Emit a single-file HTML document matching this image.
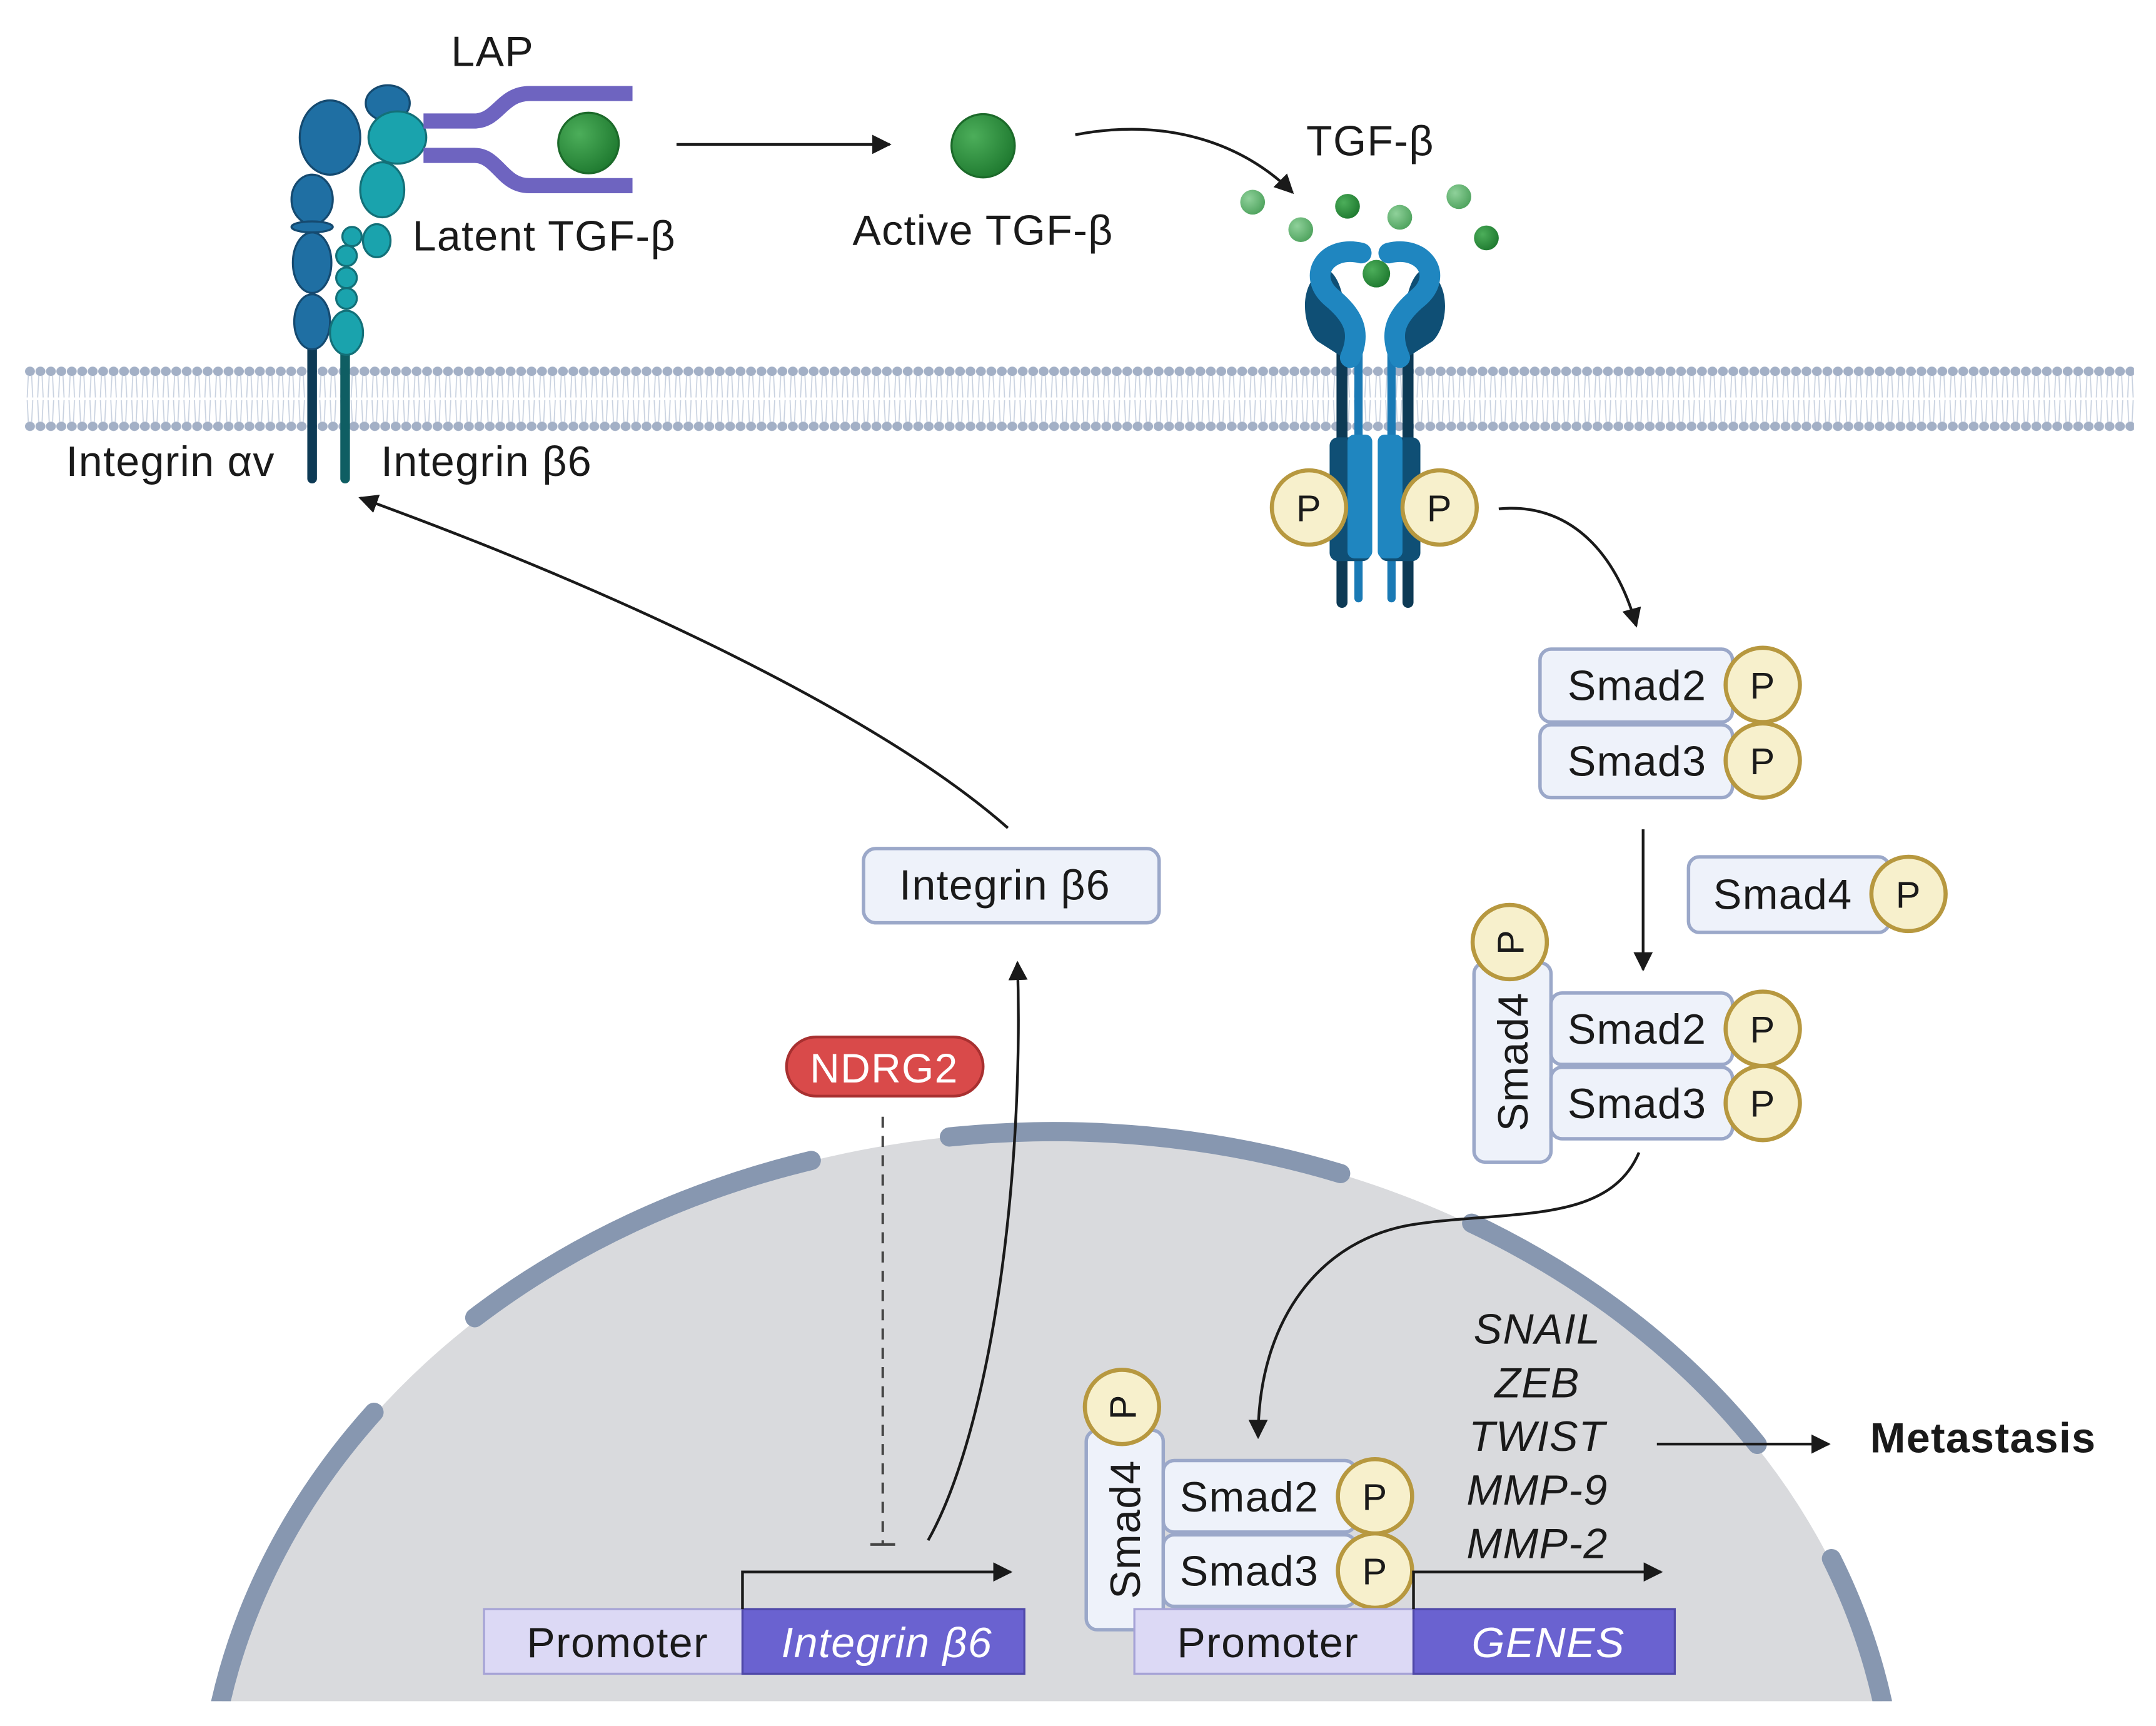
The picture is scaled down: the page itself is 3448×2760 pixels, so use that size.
<!DOCTYPE html>
<html><head><meta charset="utf-8"><style>
html,body{margin:0;padding:0;background:#fff;width:3448px;height:2760px;overflow:hidden}
svg{display:block}
text{font-family:"Liberation Sans",sans-serif;fill:#1a1a1a;letter-spacing:0.6px}
</style></head><body>
<svg width="3448" height="2760" viewBox="0 0 1568 1255" preserveAspectRatio="none" xmlns="http://www.w3.org/2000/svg">
<defs>
<pattern id="mem" x="18" y="262" width="7.6" height="56" patternUnits="userSpaceOnUse">
<ellipse cx="3.8" cy="8" rx="3.6" ry="3.4" fill="#a3b0c6"/>
<ellipse cx="3.8" cy="48" rx="3.6" ry="3.4" fill="#a3b0c6"/>
<path d="M2.6 11 L1.8 27 M5 11 L5.8 27 M1.8 29 L2.6 45 M5.8 29 L5 45" stroke="#c9d2e0" stroke-width="0.8" fill="none"/>
</pattern>
<marker id="ah2" viewBox="0 0 10 10" refX="9" refY="5" markerWidth="14" markerHeight="14" orient="auto" markerUnits="userSpaceOnUse">
<path d="M0 0 L10 5 L0 10 z" fill="#1a1a1a"/></marker>
<clipPath id="nc"><rect x="0" y="0" width="1568" height="1237"/></clipPath>
<radialGradient id="g1" cx="0.35" cy="0.35" r="0.7"><stop offset="0" stop-color="#4cae5a"/><stop offset="1" stop-color="#1f7a30"/></radialGradient>
<radialGradient id="g2" cx="0.35" cy="0.35" r="0.7"><stop offset="0" stop-color="#8fd19a"/><stop offset="1" stop-color="#4fa35e"/></radialGradient>
</defs>

<g clip-path="url(#nc)">
<ellipse cx="765" cy="1335" rx="615" ry="512" fill="#d9dadd"/>
<g fill="none" stroke="#8797b0" stroke-width="14" stroke-linecap="round">
<path d="M160 1239.9 A615 512 0 0 1 272 1026.9"/>
<path d="M345.3 958.1 A615 512 0 0 1 590 843.8"/>
<path d="M690.5 826.7 A615 512 0 0 1 975 853.3"/>
<path d="M1070.3 889.4 A615 512 0 0 1 1278 1050.2"/>
<path d="M1332 1133.3 A615 512 0 0 1 1369 1237.3"/>
</g>
</g>

<rect x="18" y="262" width="1534" height="56" fill="url(#mem)"/>

<g stroke-width="1.5">
<line x1="227" y1="240" x2="227" y2="348" stroke="#0d3a55" stroke-width="7" stroke-linecap="round"/>
<line x1="251" y1="240" x2="251" y2="348" stroke="#0f5e63" stroke-width="7" stroke-linecap="round"/>
<g fill="#1f6fa3" stroke="#154a70">
<ellipse cx="282" cy="75" rx="16" ry="13"/>
<ellipse cx="240" cy="100" rx="22" ry="27"/>
<ellipse cx="227" cy="145" rx="15" ry="18"/>
<ellipse cx="227" cy="165" rx="15" ry="4"/>
<ellipse cx="227" cy="191" rx="14" ry="22"/>
<ellipse cx="227" cy="234" rx="13" ry="20"/>
</g>
<g fill="#1aa3ad" stroke="#137078">
<ellipse cx="278" cy="138" rx="16" ry="20"/>
<ellipse cx="289" cy="100" rx="21" ry="19"/>
<ellipse cx="274" cy="175" rx="10" ry="12"/>
<circle cx="256" cy="172" r="7"/>
<circle cx="252" cy="186" r="7.5"/>
<circle cx="252" cy="202" r="7.5"/>
<circle cx="252" cy="217" r="7.5"/>
<ellipse cx="252" cy="242" rx="12" ry="16"/>
</g>
</g>
<g fill="none" stroke="#6e64c0" stroke-width="11">
<path d="M308 88 L345 88 C362 88 365 68 385 68 L460 68"/>
<path d="M308 113 L345 113 C362 113 365 135 385 135 L460 135"/>
</g>
<circle cx="428" cy="104" r="22" fill="url(#g1)" stroke="#1c6a2a" stroke-width="1.5"/>
<text x="328" y="48" font-size="31">LAP</text>
<text x="300" y="182" font-size="31">Latent TGF-β</text>
<text x="48" y="346" font-size="31">Integrin αv</text>
<text x="277" y="346" font-size="31">Integrin β6</text>

<line x1="492" y1="105" x2="647" y2="105" stroke="#1a1a1a" stroke-width="2" marker-end="url(#ah2)"/>
<circle cx="715" cy="106" r="23" fill="url(#g1)" stroke="#1c6a2a" stroke-width="1.5"/>
<text x="620" y="178" font-size="31">Active TGF-β</text>
<path d="M782 98 C850 85 905 105 940 140" fill="none" stroke="#1a1a1a" stroke-width="2" marker-end="url(#ah2)"/>
<text x="950" y="113" font-size="31">TGF-β</text>

<circle cx="911" cy="147" r="9" fill="url(#g2)"/>
<circle cx="946" cy="167" r="9" fill="url(#g2)"/>
<circle cx="980" cy="150" r="9" fill="url(#g1)"/>
<circle cx="1018" cy="158" r="9" fill="url(#g2)"/>
<circle cx="1061" cy="143" r="9" fill="url(#g2)"/>
<circle cx="1081" cy="173" r="9" fill="url(#g1)"/>
<circle cx="1001" cy="199" r="10" fill="url(#g1)"/>

<g>
<line x1="976" y1="250" x2="976" y2="438" stroke="#0d3a55" stroke-width="8" stroke-linecap="round"/>
<line x1="988" y1="250" x2="988" y2="435" stroke="#1a7ab5" stroke-width="6" stroke-linecap="round"/>
<line x1="1024" y1="250" x2="1024" y2="438" stroke="#0d3a55" stroke-width="8" stroke-linecap="round"/>
<line x1="1012" y1="250" x2="1012" y2="435" stroke="#1a7ab5" stroke-width="6" stroke-linecap="round"/>
<rect x="967" y="318" width="30" height="90" rx="6" fill="#0f4f75"/>
<rect x="980" y="316" width="18" height="90" rx="5" fill="#1f86c0"/>
<rect x="1003" y="318" width="30" height="90" rx="6" fill="#0f4f75"/>
<rect x="1002" y="316" width="18" height="90" rx="5" fill="#1f86c0"/>
<path d="M966 196 C945 200 945 235 958 248 L980 262 L985 236 C975 222 978 205 966 196z" fill="#0f4f75"/>
<path d="M1034 196 C1055 200 1055 235 1042 248 L1020 262 L1015 236 C1025 222 1022 205 1034 196z" fill="#0f4f75"/>
<path d="M990 184 C965 178 950 200 968 216 C985 230 990 242 982 260" fill="none" stroke="#1f86c0" stroke-width="15" stroke-linecap="round"/>
<path d="M1010 184 C1035 178 1050 200 1032 216 C1015 230 1010 242 1018 260" fill="none" stroke="#1f86c0" stroke-width="15" stroke-linecap="round"/>
</g>
<g fill="#f7f0cc" stroke="#b7983f" stroke-width="3">
<circle cx="952" cy="369" r="27"/><circle cx="1047" cy="369" r="27"/>
</g>
<text x="952" y="379" font-size="27" text-anchor="middle">P</text>
<text x="1047" y="379" font-size="27" text-anchor="middle">P</text>

<path d="M1090 370 C1140 365 1175 400 1190 455" fill="none" stroke="#1a1a1a" stroke-width="2" marker-end="url(#ah2)"/>

<g fill="#eef2fa" stroke="#9ba8c9" stroke-width="2.5">
<rect x="1120" y="472" width="140" height="53" rx="8"/>
<rect x="1120" y="527" width="140" height="53" rx="8"/>
<rect x="1228" y="623" width="146" height="55" rx="8"/>
<rect x="1072" y="700" width="56" height="145" rx="8"/>
<rect x="1128" y="722" width="132" height="52" rx="8"/>
<rect x="1128" y="776" width="132" height="52" rx="8"/>
<rect x="790" y="1040" width="56" height="145" rx="8"/>
<rect x="846" y="1062" width="140" height="52" rx="8"/>
<rect x="846" y="1116" width="140" height="52" rx="8"/>
<rect x="628" y="617" width="215" height="54" rx="9"/>
</g>
<g font-size="31">
<text x="1140" y="509">Smad2</text>
<text x="1140" y="564">Smad3</text>
<text x="1246" y="661">Smad4</text>
<text x="1140" y="759">Smad2</text>
<text x="1140" y="813">Smad3</text>
<text x="858" y="1099">Smad2</text>
<text x="858" y="1153">Smad3</text>
<text x="654" y="654">Integrin β6</text>
<text transform="translate(1111 772) rotate(-90)" text-anchor="middle">Smad4</text>
<text transform="translate(829 1112) rotate(-90)" text-anchor="middle">Smad4</text>
</g>
<g fill="#f7f0cc" stroke="#b7983f" stroke-width="3">
<circle cx="1282" cy="498" r="27"/><circle cx="1282" cy="553" r="27"/>
<circle cx="1388" cy="650" r="27"/>
<circle cx="1098" cy="685" r="27"/>
<circle cx="1282" cy="748" r="27"/><circle cx="1282" cy="802" r="27"/>
<circle cx="816" cy="1023" r="27"/>
<circle cx="1000" cy="1088" r="27"/><circle cx="1000" cy="1142" r="27"/>
</g>
<g font-size="27" text-anchor="middle">
<text x="1282" y="508">P</text><text x="1282" y="563">P</text>
<text x="1388" y="660">P</text>
<text x="1000" y="1098">P</text><text x="1000" y="1152">P</text>
<text x="1282" y="758">P</text><text x="1282" y="812">P</text>
<text transform="translate(1108 685) rotate(-90)">P</text>
<text transform="translate(826 1023) rotate(-90)">P</text>
</g>

<line x1="1195" y1="603" x2="1195" y2="705" stroke="#1a1a1a" stroke-width="2" marker-end="url(#ah2)"/>
<path d="M1192 838 C1170 890 1100 880 1030 890 C960 900 915 960 915 1045" fill="none" stroke="#1a1a1a" stroke-width="2" marker-end="url(#ah2)"/>

<rect x="572" y="754" width="143" height="43" rx="21.5" fill="#d94a4a" stroke="#a83030" stroke-width="2"/>
<text x="643" y="787" font-size="30" text-anchor="middle" style="fill:#fff">NDRG2</text>
<line x1="642" y1="812" x2="642" y2="1122" stroke="#444" stroke-width="1.8" stroke-dasharray="8 6"/>
<line x1="633" y1="1123" x2="651" y2="1123" stroke="#444" stroke-width="2"/>
<path d="M675 1120 C720 1040 745 860 740 700" fill="none" stroke="#1a1a1a" stroke-width="2" marker-end="url(#ah2)"/>
<path d="M733 602 C640 520 450 430 262 362" fill="none" stroke="#1a1a1a" stroke-width="2" marker-end="url(#ah2)"/>

<rect x="352" y="1170" width="188" height="47" fill="#dcd9f5" stroke="#a6a3d6" stroke-width="1.5"/>
<rect x="540" y="1170" width="205" height="47" fill="#6a62d0" stroke="#4f48a8" stroke-width="1.5"/>
<text x="383" y="1205" font-size="31">Promoter</text>
<text x="645" y="1205" font-size="31" font-style="italic" text-anchor="middle" style="fill:#fff">Integrin β6</text>
<rect x="825" y="1170" width="203" height="47" fill="#dcd9f5" stroke="#a6a3d6" stroke-width="1.5"/>
<rect x="1028" y="1170" width="190" height="47" fill="#6a62d0" stroke="#4f48a8" stroke-width="1.5"/>
<text x="856" y="1205" font-size="31">Promoter</text>
<text x="1126" y="1205" font-size="31" font-style="italic" text-anchor="middle" style="fill:#fff">GENES</text>
<path d="M540 1170 L540 1143 L735 1143" fill="none" stroke="#1a1a1a" stroke-width="2" marker-end="url(#ah2)"/>
<path d="M1028 1170 L1028 1143 L1208 1143" fill="none" stroke="#1a1a1a" stroke-width="2" marker-end="url(#ah2)"/>

<g font-size="31" font-style="italic" text-anchor="middle">
<text x="1118" y="977">SNAIL</text>
<text x="1118" y="1016">ZEB</text>
<text x="1118" y="1055">TWIST</text>
<text x="1118" y="1094">MMP-9</text>
<text x="1118" y="1133">MMP-2</text>
</g>
<line x1="1205" y1="1050" x2="1330" y2="1050" stroke="#1a1a1a" stroke-width="2" marker-end="url(#ah2)"/>
<text x="1360" y="1056" font-size="31" font-weight="bold">Metastasis</text>
</svg>
</body></html>
